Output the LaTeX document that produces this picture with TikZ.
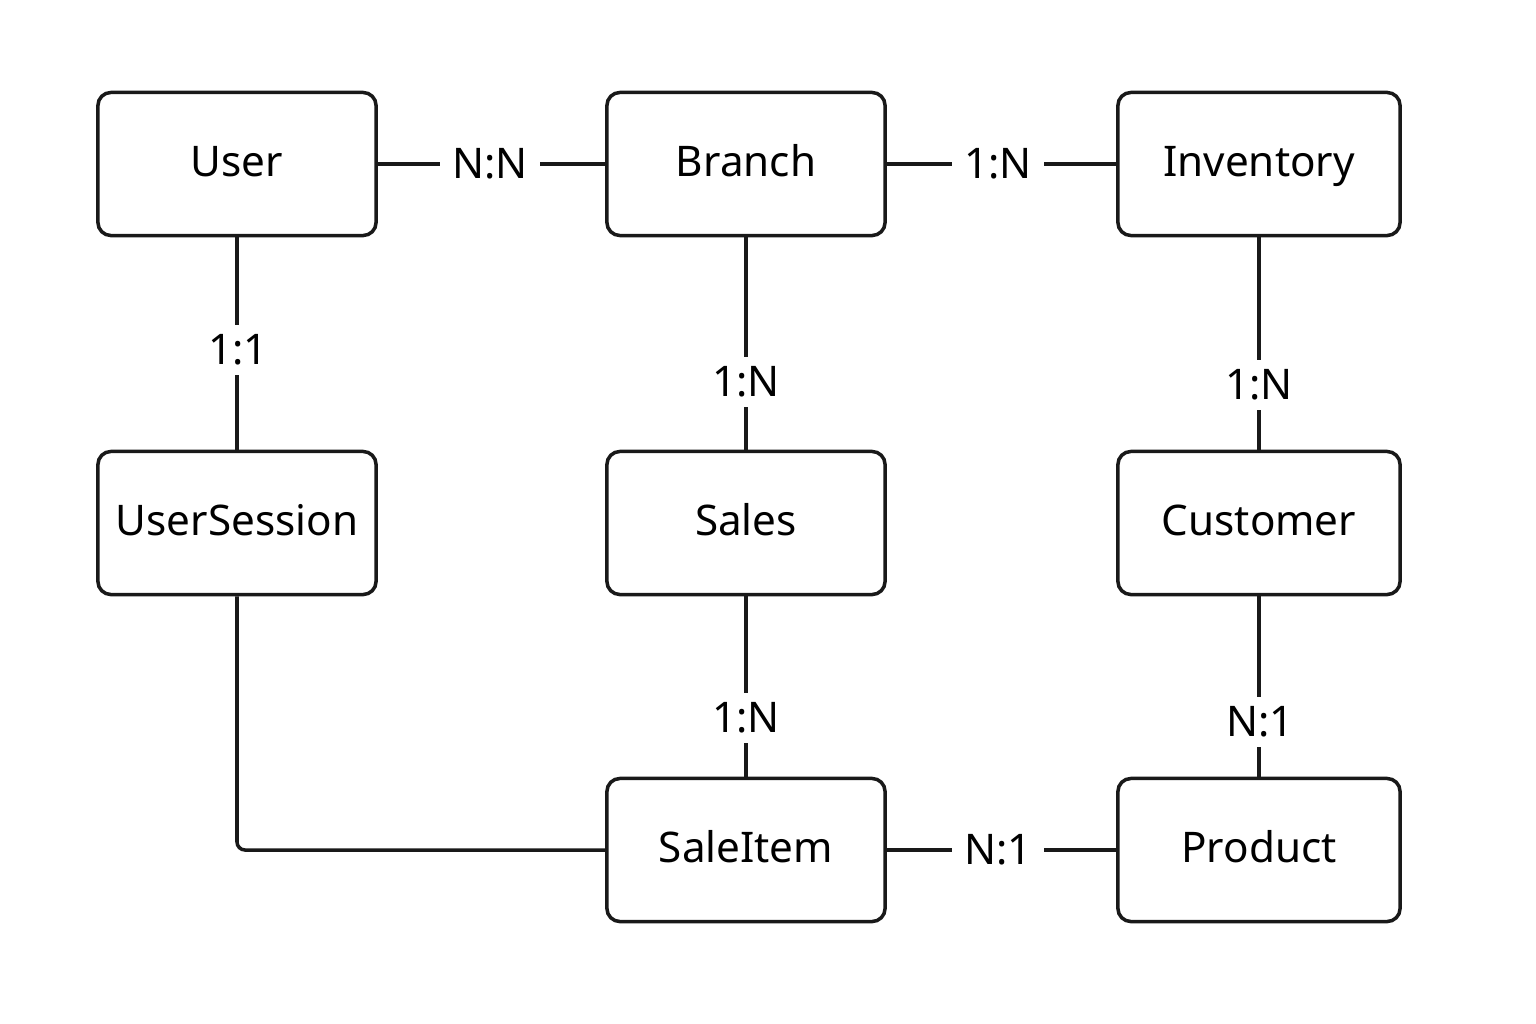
\documentclass[tikz,border=0pt]{standalone}
\usepackage{fontspec}
\setmainfont{Noto Sans}
\begin{document}
\begin{tikzpicture}[x=0.01cm,y=-0.01cm,
  entity/.style={draw=black!90,line width=1pt,rounded corners=0.13cm,minimum width=2.78cm,minimum height=1.43cm,font=\fontsize{12}{14}\selectfont,inner sep=0pt,text height=0.8em,text depth=0.09em},
  card/.style={fill=white,font=\fontsize{12}{14}\selectfont,inner xsep=0.12cm,inner ysep=0.1cm},
  rel/.style={line width=1pt,draw=black!90}]
\useasboundingbox (0,0) rectangle (1536,1024);
\node[entity] (user) at (237,164) {User};
\node[entity] (branch) at (746,164) {Branch};
\node[entity,minimum width=2.82cm] (inventory) at (1259,164) {Inventory};
\node[entity] (usersession) at (237,523) {UserSession};
\node[entity] (sales) at (746,523) {Sales};
\node[entity,minimum width=2.82cm] (customer) at (1259,523) {Customer};
\node[entity] (saleitem) at (746,850) {SaleItem};
\node[entity,minimum width=2.82cm] (product) at (1259,850) {Product};
\coordinate (corner) at (237,850);
\draw[rel] (user) -- (branch);
\draw[rel] (branch) -- (inventory);
\draw[rel] (user) -- (usersession);
\draw[rel] (branch) -- (sales);
\draw[rel] (inventory) -- (customer);
\draw[rel] (sales) -- (saleitem);
\draw[rel] (customer) -- (product);
\draw[rel] (saleitem) -- (product);
\draw[rel,rounded corners=0.08cm] (usersession.south) -- (corner) -- (saleitem.west);
\node[card] (l1) at (490,164) {N:N};
\node[card] (l2) at (998,164) {1:N};
\node[card] (l3) at (238,350) {1:1};
\node[card] (l4) at (746,382) {1:N};
\node[card] (l5) at (1259,385) {1:N};
\node[card] (l6) at (746,718) {1:N};
\node[card] (l7) at (1260,722) {N:1};
\node[card] (l8) at (998,850) {N:1};
\end{tikzpicture}
\end{document}
